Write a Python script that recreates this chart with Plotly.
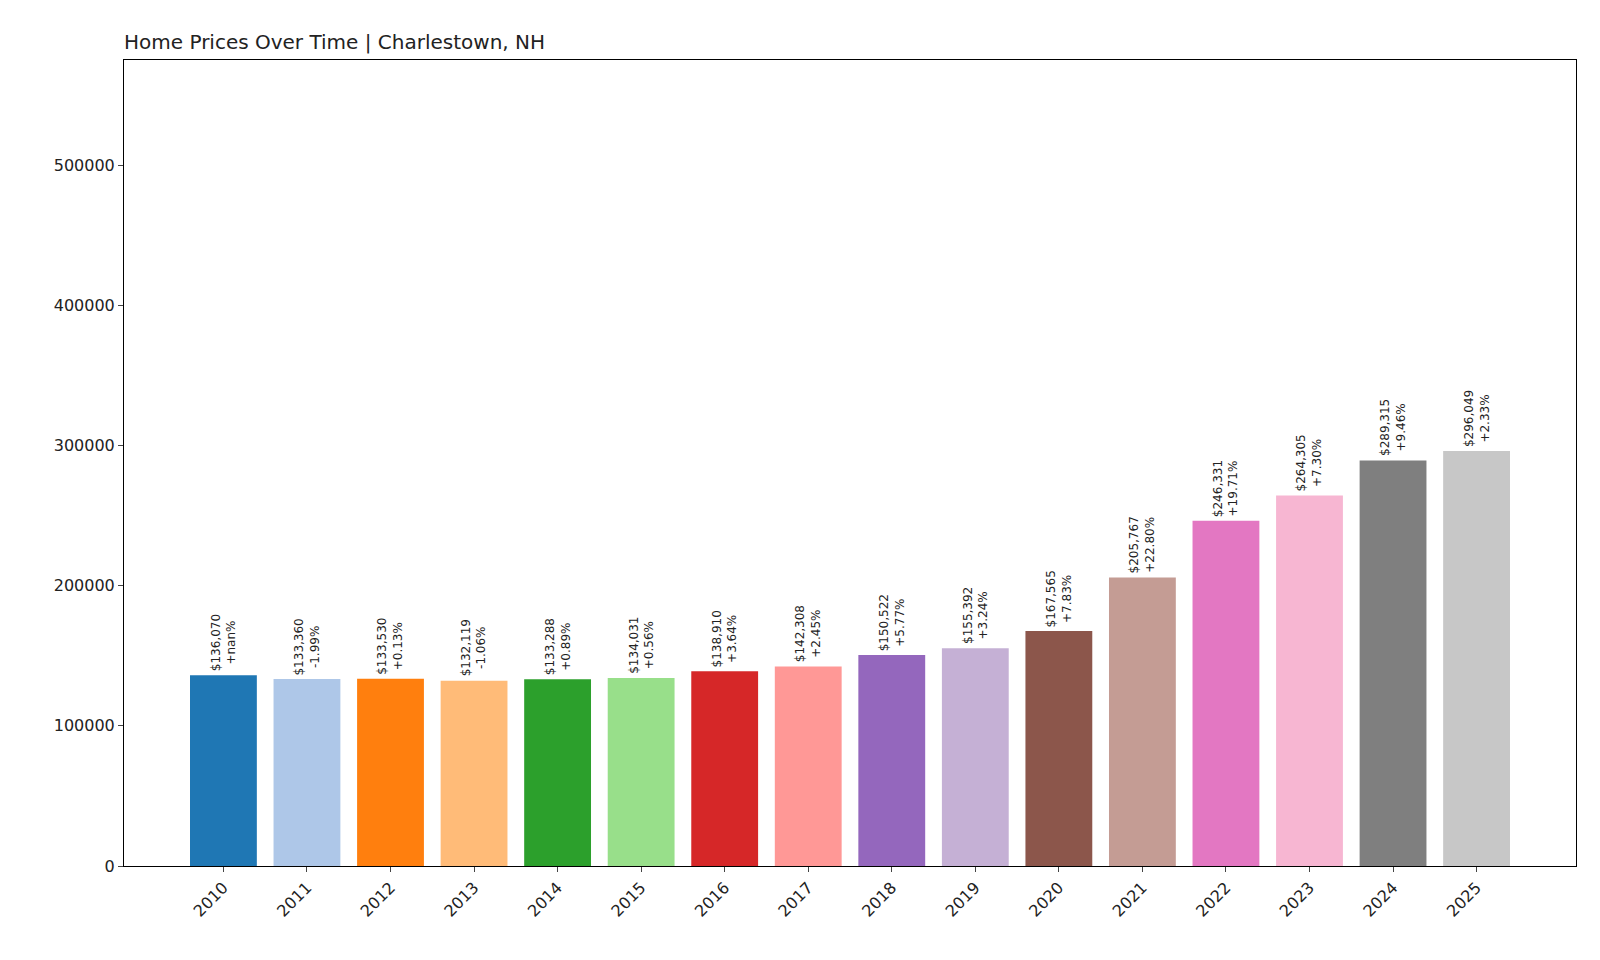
import plotly.graph_objects as go

years = [str(y) for y in range(2010, 2026)]
values = [136070, 133360, 133530, 132119, 133288, 134031, 138910, 142308, 150522, 155392, 167565, 205767, 246331, 264305, 289315, 296049]
changes = ["+nan%", "-1.99%", "+0.13%", "-1.06%", "+0.89%", "+0.56%", "+3.64%", "+2.45%", "+5.77%", "+3.24%", "+7.83%", "+22.80%", "+19.71%", "+7.30%", "+9.46%", "+2.33%"]
colors = ["#1f77b4", "#aec7e8", "#ff7f0e", "#ffbb78", "#2ca02c", "#98df8a", "#d62728", "#ff9896",
          "#9467bd", "#c5b0d5", "#8c564b", "#c49c94", "#e377c2", "#f7b6d2", "#7f7f7f", "#c7c7c7"]

idx = list(range(len(years)))
fig = go.Figure(go.Bar(x=idx, y=values, marker_color=colors, width=0.8, marker_line_width=0))
for i, v, c in zip(idx, values, changes):
    fig.add_annotation(x=i, y=v, text=f"${v:,}<br>{c}", textangle=-90, showarrow=False,
                       xanchor="center", yanchor="bottom", yshift=2,
                       font=dict(size=12, color="#222", family="DejaVu Sans"))
fig.update_layout(
    width=1600, height=960, plot_bgcolor="white", paper_bgcolor="white",
    margin=dict(l=116, r=32, t=52, b=102), showlegend=False,
    font=dict(family="DejaVu Sans", size=16, color="#222"),
    title=dict(text="Home Prices Over Time | Charlestown, NH", x=116/1600, xanchor="left",
               y=1-34/960, yanchor="middle", font=dict(size=20)),
)
fig.update_xaxes(range=[-1.19, 16.19], tickvals=idx, ticktext=years, tickangle=-45,
                 showline=True, linecolor="black", mirror=True, ticks="outside", showgrid=False)
fig.update_yaxes(range=[0, 575000], tickvals=[0, 100000, 200000, 300000, 400000, 500000],
                 tickformat="d", showline=True, linecolor="black", mirror=True, ticks="outside",
                 showgrid=False, zeroline=False)
fig.write_html("out.html")
